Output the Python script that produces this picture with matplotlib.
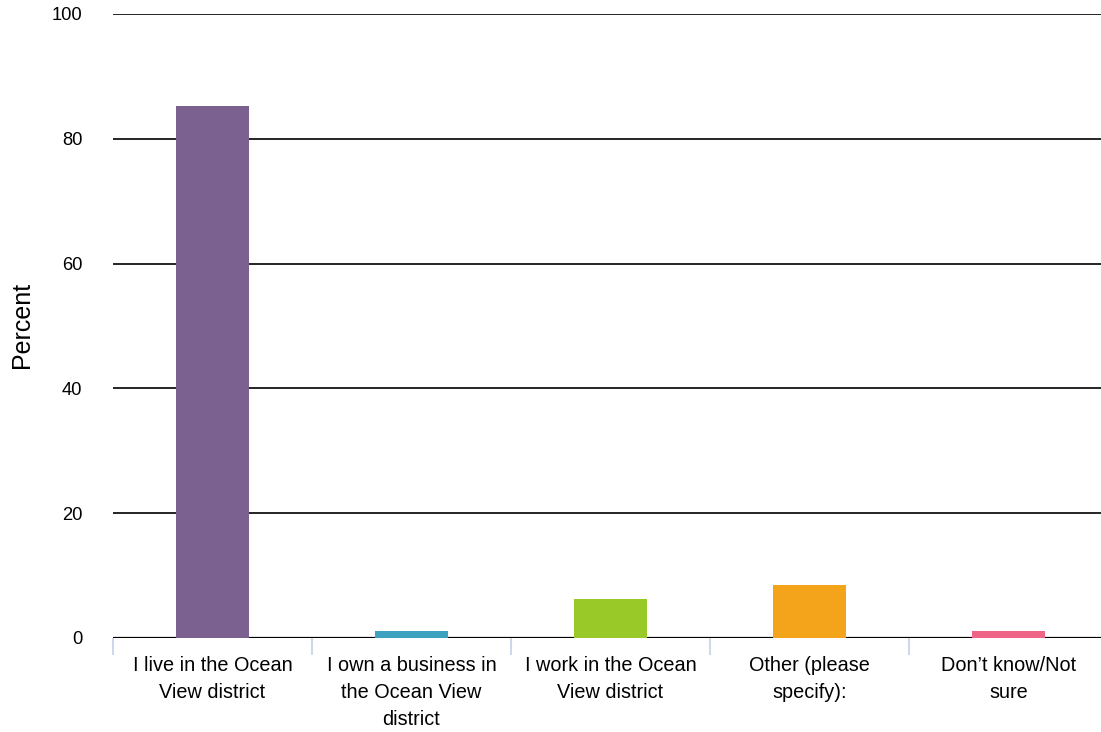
import matplotlib
matplotlib.use('Agg')
import matplotlib.pyplot as plt

plt.rcParams['font.family'] = ['Liberation Sans', 'DejaVu Sans']

# 응답 항목 / 비율(%)
categories = [
    "I live in the Ocean\nView district",
    "I own a business in\nthe Ocean View\ndistrict",
    "I work in the Ocean\nView district",
    "Other (please\nspecify):",
    "Don\u2019t know/Not\nsure",
]
percent = [85.3, 1.1, 6.3, 8.5, 1.1]
bar_colors = ["#7b6190", "#3ea1bf", "#98c929", "#f4a41b", "#ef6587"]
y_ticks = [0, 20, 40, 60, 80, 100]

fig = plt.figure(figsize=(11.01, 7.32), dpi=100)
W, H = 1101, 732
ax = fig.add_axes([113 / W, (H - 638) / H, (W - 113) / W, (638 - 14) / H])

x = list(range(len(categories)))
ax.bar(x, percent, width=0.37, color=bar_colors, zorder=3)

ax.set_ylim(0, 100)
ax.set_xlim(-0.5, 4.465)
ax.set_yticks(y_ticks)
ax.tick_params(axis='y', length=0, pad=22, labelsize=13.2)
for v in y_ticks:
    ax.axhline(v, color='black', lw=1.6 if v == 0 else 1.2, zorder=2)

# 카테고리 라벨 (major) + 경계 눈금 (minor)
ax.set_xticks(x)
ax.set_xticklabels(categories, fontsize=14.3, linespacing=1.52, va='top')
ax.tick_params(axis='x', which='major', length=0, pad=13)
ax.set_xticks([i - 0.5 for i in range(len(categories))], minor=True)
ax.tick_params(axis='x', which='minor', length=12.5, width=1.5,
               color='#cdd8ea', direction='out')

for s in ax.spines.values():
    s.set_visible(False)

ax.set_ylabel("Percent", fontsize=18)
ax.yaxis.label.set_va('center')
ax.yaxis.set_label_coords((22 - 113) / 988, (638 - 325) / 624)

fig.savefig("out.png", dpi=100)
